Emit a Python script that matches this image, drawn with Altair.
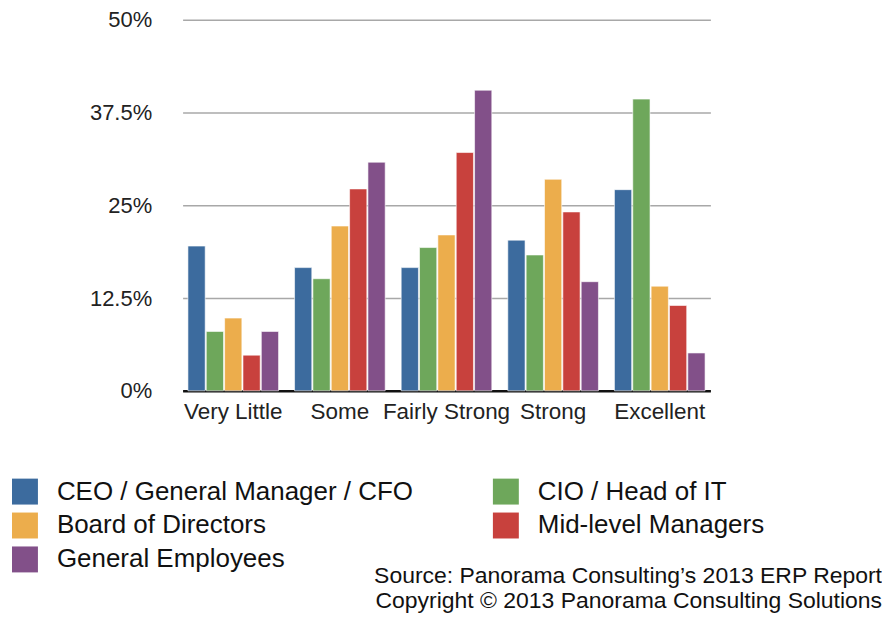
import altair as alt
import pandas as pd

categories = ["Very Little", "Some", "Fairly Strong", "Strong", "Excellent"]
series = ["CEO / General Manager / CFO", "CIO / Head of IT", "Board of Directors",
          "Mid-level Managers", "General Employees"]
colors = ["#3C6B9E", "#6EA75B", "#ECAD4C", "#C8413D", "#825089"]

ceo = [19.5, 16.6, 16.6, 20.3, 27.1]
cio = [8.0, 15.1, 19.3, 18.3, 39.3]
board = [9.8, 22.2, 21.0, 28.5, 14.1]
mid = [4.8, 27.2, 32.1, 24.1, 11.5]
gen = [8.0, 30.8, 40.5, 14.7, 5.1]

y_ticks = [0, 12.5, 25, 37.5, 50]
source_lines = ["Source: Panorama Consulting\u2019s 2013 ERP Report",
                "Copyright \u00a9 2013 Panorama Consulting Solutions"]

rows = []
for s, vals in zip(series, [ceo, cio, board, mid, gen]):
    for c, v in zip(categories, vals):
        rows.append({"category": c, "series": s, "value": v})
df = pd.DataFrame(rows)

# legend is filled column by column: order the colour domain so it reads row by row
legend_order = [series[0], series[2], series[4], series[1], series[3]]
legend_colors = [colors[series.index(s)] for s in legend_order]

FONT = "Liberation Sans"

bars = alt.Chart(df).mark_bar(stroke="white", strokeWidth=0.6).encode(
    x=alt.X("category:N", sort=categories,
            scale=alt.Scale(paddingInner=0.15, paddingOuter=0.05),
            axis=alt.Axis(title=None, labelAngle=0, labelFontSize=22.5, labelFont=FONT,
                          labelColor="#222222", labelPadding=10, ticks=False,
                          domainColor="#111111", domainWidth=2.5, grid=False)),
    xOffset=alt.XOffset("series:N", sort=series,
                        scale=alt.Scale(paddingInner=0.06, paddingOuter=0)),
    y=alt.Y("value:Q", scale=alt.Scale(domain=[0, 50], nice=False),
            axis=alt.Axis(title=None, values=y_ticks, labelExpr="datum.value + '%'",
                          labelFontSize=22, labelFont=FONT, labelColor="#222222",
                          labelPadding=31, ticks=False, domain=False,
                          gridColor="#a8a8a8", gridWidth=1.5)),
    color=alt.Color("series:N",
                    scale=alt.Scale(domain=legend_order, range=legend_colors),
                    legend=alt.Legend(title=None, orient="none", legendX=-171, legendY=460,
                                      columns=2, symbolType="square", symbolSize=676,
                                      symbolStrokeWidth=0, labelFontSize=26, labelFont=FONT,
                                      labelColor="#111111", labelOffset=19, rowPadding=8,
                                      columnPadding=80, labelLimit=600)),
)

src = alt.Chart(alt.Data(values=[{}])).mark_text(
    align="right", baseline="middle", fontSize=23, font=FONT, color="#111111",
    lineHeight=25
).encode(
    x=alt.value(701), y=alt.value(558), text=alt.value(source_lines)
)

chart = alt.layer(bars, src).properties(
    width=529, height=372,
    autosize=alt.AutoSizeParams(type="none"),
    padding={"left": 175, "top": 11, "right": 172, "bottom": 226},
).configure_view(stroke=None)

chart.save("out.html", embed_options={"renderer": "svg", "actions": False})
